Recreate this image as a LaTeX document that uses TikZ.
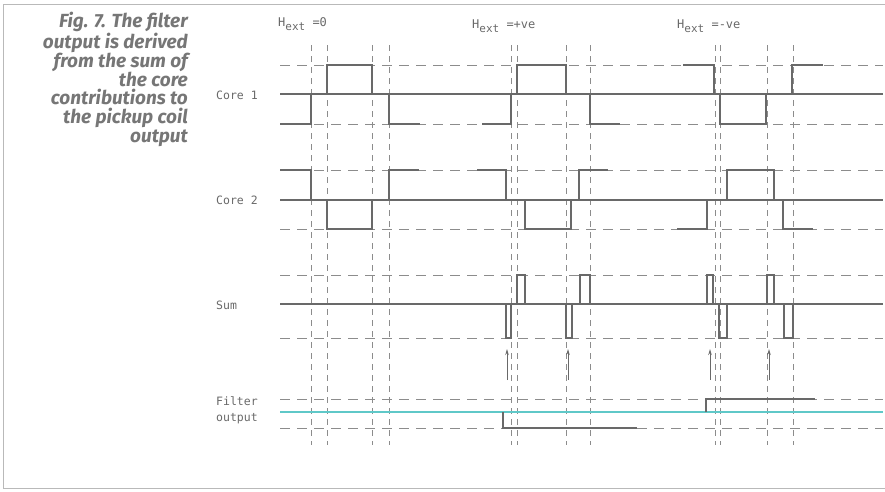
\documentclass[tikz,border=0pt]{standalone}
\usepackage{fontspec}
\setmainfont{Fira Sans}
\setmonofont{DejaVu Sans Mono}
\usetikzlibrary{arrows.meta}
\definecolor{ink}{RGB}{105,105,105}
\definecolor{guidegray}{RGB}{140,140,140}
\definecolor{capgray}{RGB}{118,118,118}
\definecolor{filtcyan}{RGB}{95,200,200}
\newcommand{\Hext}[1]{H\raisebox{-4pt}{\fontsize{11}{11}\selectfont ext}\ #1}

\begin{document}
\begin{tikzpicture}[x=1pt,y=-1pt,
    wave/.style={line width=2.2pt,ink,line join=miter},
    pulse/.style={line width=1.6pt,ink},
    midline/.style={line width=1.3pt,ink},
    hguide/.style={line width=1pt,guidegray,dash pattern=on 10pt off 7pt},
    vguide/.style={line width=0.9pt,guidegray,dash pattern=on 6pt off 5pt},
    lbl/.style={font=\ttfamily\fontsize{11.5}{16}\selectfont,text=ink,inner sep=0pt,anchor=west,align=left}]
    \useasboundingbox (0,0) rectangle (885,491);
    \draw[gray!55,line width=1pt] (885,4) -- (3,4) -- (3,488) -- (885,488);

    % caption
    \node[anchor=north east,align=right,inner sep=0pt,text=capgray,
          font=\bfseries\itshape\fontsize{19}{18.9}\selectfont] (caption) at (188,12)
        {Fig. 7. The filter\\output is derived\\from the sum of\\the core\\contributions to\\the pickup coil\\output};

    % row labels
    \node[lbl] (core1) at (216,95) {Core 1};
    \node[lbl] (core2) at (216,200) {Core 2};
    \node[lbl] (sum) at (216,305) {Sum};
    \node[lbl] (filter) at (216,410) {Filter\\output};
    \node[lbl,font=\ttfamily\fontsize{12}{12}\selectfont] (hzero) at (278,24) {\Hext{=0}};
    \node[lbl,font=\ttfamily\fontsize{12}{12}\selectfont] (hpos) at (472,26) {\Hext{=+ve}};
    \node[lbl,font=\ttfamily\fontsize{12}{12}\selectfont] (hneg) at (677,26) {\Hext{=-ve}};

    % guide lines
    \foreach \y in {65,124,170,229,275,338,399,428}
        \draw[hguide] (280,\y) -- (883,\y);
    \foreach \x in {311,327,372,389,511,517,566,590,715,720,767,793}
        \draw[vguide] (\x,45) -- (\x,445);
    \foreach \y in {94,200,304}
        \draw[midline] (280,\y) -- (883,\y);
    \draw[line width=1.5pt,filtcyan] (280,412) -- (883,412);

    % core 1
    \draw[wave] (280,124) -| (311,94) -| (327,65) -| (372,94) -| (389,124) -- (420,124);
    \draw[wave] (482,124) -| (511,94) -| (517,65) -| (566,94) -| (590,124) -- (620,124);
    \draw[wave] (683,65) -| (714,94) -| (720,124) -| (766,94) -| (792,65) -- (823,65);

    % core 2
    \draw[wave] (280,170) -| (311,200) -| (327,229) -| (372,200) -| (389,170) -- (419,170);
    \draw[wave] (477,170) -| (506,200) -| (525,229) -| (571,200) -| (579,170) -- (608,170);
    \draw[wave] (677,229) -| (707,200) -| (727,170) -| (774,200) -| (783,229) -- (813,229);

    % sum
    \foreach \a/\b/\y in {506/511/338,517/525/275,566/572/338,580/590/275,
                          707/713/275,719/727/338,767/774/275,784/793/338}
        \draw[pulse] (\a,304) |- (\b,\y) -- (\b,304);

    % filter output
    \draw[wave] (503,412) |- (637,428);
    \draw[wave] (706,412) |- (815,399);

    % marks
    \foreach \x [count=\i] in {507,568,710,769} {
        \coordinate (tail\i) at (\x,380);
        \coordinate (head\i) at (\x,349);
        \draw[ink,line width=0.9pt,-{Stealth[length=6pt,width=3.5pt]}] (tail\i) -- (head\i);
    }
\end{tikzpicture}
\end{document}
